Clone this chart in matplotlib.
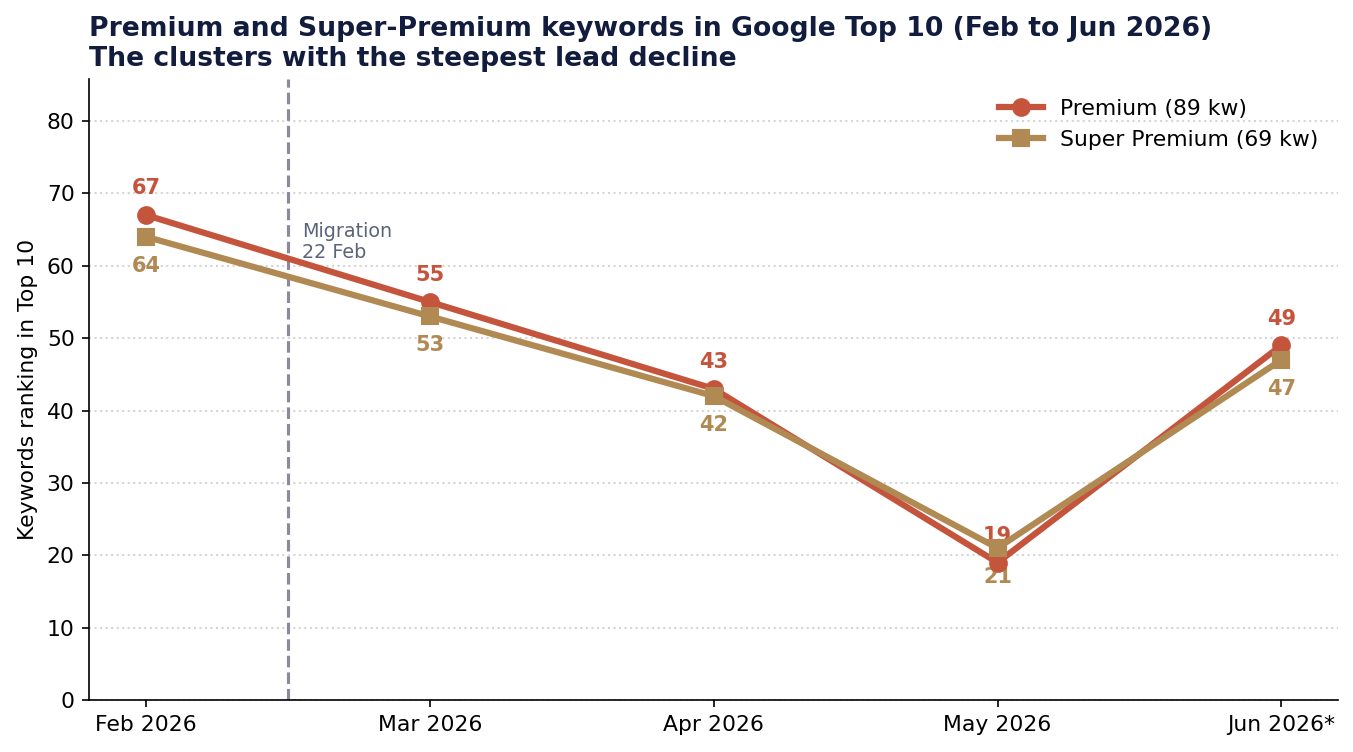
import matplotlib
matplotlib.use("Agg")
import matplotlib.pyplot as plt

months = ["Feb 2026", "Mar 2026", "Apr 2026", "May 2026", "Jun 2026*"]
premium = [67, 55, 43, 19, 49]
super_premium = [64, 53, 42, 21, 47]
premium_label = "Premium (89 kw)"
super_label = "Super Premium (69 kw)"

c_prem = "#C5543D"
c_sup = "#B08A52"
navy = "#121D3E"

fig, ax = plt.subplots(figsize=(1353/150, 752/150), dpi=150)
fig.subplots_adjust(left=0.066, right=0.989, bottom=0.069, top=0.895)

x = list(range(len(months)))
ax.plot(x, premium, color=c_prem, lw=3, marker="o", ms=8, label=premium_label, zorder=3)
ax.plot(x, super_premium, color=c_sup, lw=3, marker="s", ms=8, label=super_label, zorder=3)

for xi, v in zip(x, premium):
    ax.annotate(str(v), (xi, v), xytext=(0, 8), textcoords="offset points",
                ha="center", va="bottom", color=c_prem, fontsize=10, fontweight="bold", zorder=2)
for xi, v in zip(x, super_premium):
    ax.annotate(str(v), (xi, v), xytext=(0, -9), textcoords="offset points",
                ha="center", va="top", color=c_sup, fontsize=10, fontweight="bold", zorder=2)

ax.axvline(0.5, color="#8A8A9C", ls="--", lw=1.5, zorder=1)
ax.text(0.55, 63.3, "Migration\n22 Feb", color="#5B6478", fontsize=9.2, va="center", ha="left", linespacing=1.1)

ax.set_xlim(-0.2, 4.2)
ax.set_ylim(0, 85.8)
ax.set_xticks(x)
ax.set_xticklabels(months, fontsize=10.5)
ax.set_yticks(range(0, 81, 10))
ax.tick_params(axis="y", labelsize=10.5)
ax.set_ylabel("Keywords ranking in Top 10", fontsize=10.5)
ax.grid(axis="y", ls=":", color="#D5D5D5", lw=1)
ax.set_axisbelow(True)
for s in ["top", "right"]:
    ax.spines[s].set_visible(False)

ax.legend(loc="upper right", frameon=False, fontsize=10.5)
ax.set_title("Premium and Super-Premium keywords in Google Top 10 (Feb to Jun 2026)\nThe clusters with the steepest lead decline",
             loc="left", fontsize=12.8, fontweight="bold", color=navy, pad=6)

fig.savefig("out.png", dpi=150)
